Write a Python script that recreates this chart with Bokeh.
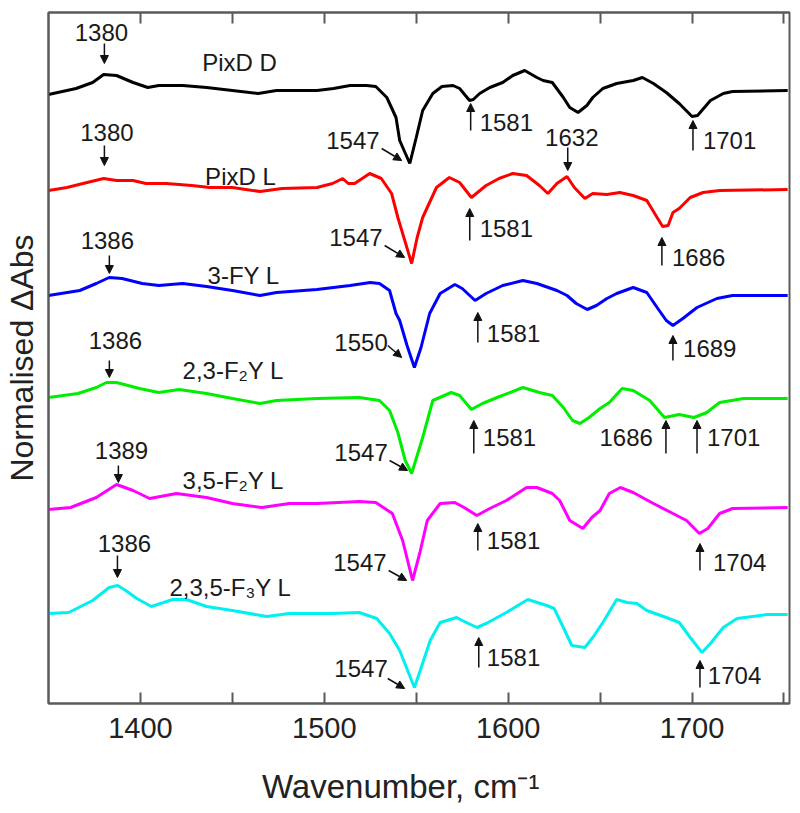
from bokeh.plotting import figure
from bokeh.models import (Range1d, FixedTicker, LinearAxis, Arrow, NormalHead,
                          ColumnDataSource)
from bokeh.core.properties import value
from bokeh.embed import file_html
from bokeh.resources import INLINE

# ---------------- data (normalised ΔAbs, relative to each trace's baseline) ----------------
wn_pixd_d = [1350, 1365, 1374, 1380, 1387, 1396, 1404, 1410, 1423, 1436, 1450, 1464, 1474, 1496,
             1505, 1514, 1523, 1528, 1534, 1539, 1541, 1546.5, 1550, 1553.5, 1559, 1564, 1570,
             1573.6, 1579, 1581, 1584.5, 1590, 1597, 1602.5, 1609, 1615.6, 1619, 1624, 1630,
             1633.5, 1638, 1642.8, 1646, 1651.5, 1659, 1668, 1673, 1679, 1686, 1693, 1700, 1703,
             1710, 1717, 1722, 1752]
dabs_pixd_d = [0, 0.06, 0.12, 0.20, 0.19, 0.12, 0.07, 0.09, 0.09, 0.07, 0.04, 0.01, 0.04, 0.04,
               0.06, 0.09, 0.09, 0.08, -0.03, -0.23, -0.46, -0.69, -0.43, -0.16, 0.01, 0.08, 0.09,
               0.06, -0.06, -0.05, 0.01, 0.07, 0.12, 0.19, 0.24, 0.17, 0.14, 0.12, -0.03,
               -0.13, -0.18, -0.11, -0.03, 0.06, 0.11, 0.14, 0.17, 0.11, 0.02, -0.09, -0.22, -0.21,
               -0.06, 0.01, 0.03, 0.04]

wn_pixd_l = [1350, 1360, 1371, 1380, 1387, 1396, 1403, 1414, 1428, 1437.6, 1450, 1465, 1477, 1496,
             1504.5, 1510, 1513, 1516.5, 1524.7, 1531, 1536.6, 1540, 1547.5, 1550.5, 1553.5, 1561,
             1568, 1573.6, 1580, 1588, 1595, 1602.5, 1610, 1617, 1621.6, 1626.5, 1632, 1636,
             1641.7, 1646, 1653.7, 1660.7, 1668, 1675.4, 1681, 1684, 1687, 1689.6, 1693, 1699,
             1706, 1715, 1752]
dabs_pixd_l = [0, 0.03, 0.08, 0.12, 0.10, 0.10, 0.07, 0.07, 0.05, 0.03, 0.03, -0.01, 0.02, 0.03,
               0.07, 0.12, 0.07, 0.07, 0.17, 0.12, -0.03, -0.27, -0.73, -0.47, -0.27, 0.03,
               0.13, 0.08, -0.07, 0.05, 0.12, 0.17, 0.15, 0.05, -0.03, 0.07, 0.14, 0.03,
               -0.08, -0.03, -0.04, -0.02, -0.05, -0.10, -0.27, -0.36, -0.35, -0.22, -0.18, -0.07,
               -0.02, 0, 0.01]

wn_3fy = [1350, 1367, 1376, 1383, 1390, 1401, 1410, 1423, 1436, 1450, 1465, 1474, 1496, 1514,
          1525, 1530, 1535.5, 1539, 1541, 1545, 1549, 1552.6, 1557.3, 1563, 1571, 1575, 1582,
          1588, 1597, 1608, 1615.6, 1626.5, 1632, 1637, 1643, 1648, 1653.7, 1659, 1668, 1675.4,
          1681, 1686, 1689.6, 1695, 1702.7, 1713.5, 1722, 1752]
dabs_3fy = [0, 0.05, 0.12, 0.18, 0.17, 0.12, 0.10, 0.12, 0.09, 0.05, 0, 0.03, 0.06, 0.10,
            0.13, 0.12, 0.05, -0.18, -0.25, -0.50, -0.72, -0.52, -0.18, 0.02, 0.11, 0.07, -0.05,
            0.02, 0.10, 0.15, 0.12, 0.05, 0, -0.08, -0.14, -0.10, -0.03, 0.02, 0.08, 0.03,
            -0.12, -0.25, -0.30, -0.23, -0.12, -0.03, 0, 0]

wn_23f2y = [1350, 1366, 1376, 1381.5, 1387, 1399.5, 1410, 1421, 1436, 1450, 1465, 1474, 1496, 1519,
            1530, 1535.5, 1540, 1544, 1547.5, 1553.5, 1559, 1569, 1573.6, 1580, 1586, 1594, 1608,
            1617, 1624, 1630, 1635, 1639, 1644, 1650, 1655, 1662, 1668, 1677, 1685, 1693, 1701,
            1708, 1715, 1728, 1752]
dabs_23f2y = [0, 0.04, 0.10, 0.15, 0.15, 0.09, 0.05, 0.08, 0.04, -0.01, -0.06, -0.03, -0.01, 0,
              -0.03, -0.13, -0.35, -0.63, -0.76, -0.40, -0.03, 0.05, 0.02, -0.12, -0.06, 0, 0.10,
              0.05, 0.02, -0.10, -0.23, -0.26, -0.20, -0.11, -0.05, 0.09, 0.07, -0.03, -0.20, -0.17,
              -0.20, -0.15, -0.05, -0.01, -0.01]

wn_35f2y = [1350, 1362, 1376, 1387, 1396, 1405, 1419.6, 1436, 1450, 1466, 1481, 1496, 1519, 1528,
            1537, 1542.6, 1548, 1552, 1556, 1563, 1571, 1576, 1583, 1590, 1599, 1610, 1615.6, 1624,
            1628, 1633.5, 1640.6, 1645.5, 1650, 1655, 1661, 1668, 1679, 1689.6, 1697, 1704,
            1708.6, 1715, 1722, 1752]
dabs_35f2y = [-0.01, 0.01, 0.11, 0.24, 0.18, 0.10, 0.15, 0.11, 0.05, 0.01, 0.05, 0.05, 0.07, 0.06,
              -0.05, -0.32, -0.72, -0.44, -0.12, 0.05, 0.06, 0.01, -0.07, 0, 0.08, 0.21, 0.21, 0.15,
              0.08, -0.12, -0.20, -0.09, -0.02, 0.15, 0.21, 0.16, 0.05, -0.05, -0.12, -0.25,
              -0.20, -0.05, 0, 0.01]

wn_235f3y = [1350, 1361, 1374, 1383, 1387.6, 1392, 1398, 1406, 1417.6, 1425, 1436, 1450, 1468.6,
             1481, 1504.5, 1519, 1528.5, 1535.5, 1541, 1549, 1552, 1557.6, 1563, 1572, 1575, 1583,
             1588, 1599, 1610.7, 1621, 1625, 1630, 1634.6, 1641.7, 1646, 1651.5, 1659, 1664.6,
             1670, 1675.4, 1686, 1693, 1699, 1705.4, 1710, 1717, 1724.5, 1740.8, 1752]
dabs_235f3y = [0, 0.01, 0.13, 0.26, 0.28, 0.23, 0.15, 0.07, 0.14, 0.14, 0.07, 0.03, -0.03,
               0, 0, 0.01, -0.05, -0.20, -0.37, -0.74, -0.58, -0.27, -0.09, -0.04, -0.07, -0.14,
               -0.10, 0.01, 0.14, 0.08, 0.05, -0.14, -0.32, -0.34, -0.24, -0.09, 0.14, 0.11,
               0.10, 0.03, -0.04, -0.09, -0.24, -0.39, -0.30, -0.14, -0.05, -0.01, -0.01]

series_names = ["PixD D", "PixD L", "3-FY L", "2,3-F2Y L", "3,5-F2Y L", "2,3,5-F3Y L"]
series_wn = [wn_pixd_d, wn_pixd_l, wn_3fy, wn_23f2y, wn_35f2y, wn_235f3y]
series_dabs = [dabs_pixd_d, dabs_pixd_l, dabs_3fy, dabs_23f2y, dabs_35f2y, dabs_235f3y]
series_offset = [6.09, 5.13, 4.08, 3.06, 1.95, 0.90]
series_color = ["#000000", "#ff0000", "#0000ff", "#00ee00", "#ff00ff", "#00f0f0"]

x_major_ticks = [1400, 1500, 1600, 1700]
x_minor_ticks = [1450, 1550, 1650, 1750]

# annotation texts (label, wavenumber, level)
ann_center = [("1380", 1378.8, 6.71), ("PixD D", 1453.9, 6.41), ("1632", 1634.6, 5.66),
              ("1380", 1381.8, 5.71), ("PixD L", 1454.4, 5.27), ("1386", 1382.0, 4.63),
              ("3-FY L", 1456.1, 4.28), ("1386", 1386.4, 3.63), ("1389", 1389.7, 2.53),
              ("1386", 1391.3, 1.60)]
ann_left = [("1581", 1584.5, 5.81), ("1701", 1705.9, 5.63), ("1581", 1584.5, 4.75),
            ("1686", 1689.1, 4.46), ("1581", 1588.4, 3.70), ("1689", 1695.1, 3.55),
            ("2,3-F\u2082Y L", 1422.9, 3.33), ("1581", 1586.2, 2.66), ("1701", 1708.1, 2.66),
            ("3,5-F\u2082Y L", 1422.9, 2.23), ("1581", 1588.4, 1.63), ("1704", 1711.4, 1.41),
            ("2,3,5-F\u2083Y L", 1415.8, 1.16), ("1581", 1588.4, 0.46), ("1704", 1708.6, 0.28)]
ann_right = [("1547", 1530.1, 5.63), ("1547", 1531.7, 4.66), ("1550", 1534.5, 3.61),
             ("1547", 1534.5, 2.51), ("1686", 1678.7, 2.66), ("1547", 1533.9, 1.41),
             ("1547", 1534.5, 0.35)]

# arrows (x_start, y_start, x_end, y_end)
arrows = [
    (1380.4, 6.60, 1380.4, 6.40), (1380.4, 5.58, 1380.4, 5.38), (1383.1, 4.48, 1383.1, 4.30),
    (1383.1, 3.43, 1383.1, 3.26), (1388.0, 2.38, 1388.0, 2.21), (1387.5, 1.48, 1387.5, 1.26),
    (1632.4, 5.56, 1632.4, 5.33),
    (1579.6, 5.73, 1579.6, 6.00), (1700.5, 5.53, 1700.5, 5.83), (1579.1, 4.63, 1579.1, 4.95),
    (1683.6, 4.38, 1683.6, 4.66), (1583.5, 3.61, 1583.5, 3.91), (1689.6, 3.43, 1689.6, 3.68),
    (1581.3, 2.50, 1581.3, 2.83), (1685.8, 2.50, 1685.8, 2.83), (1702.7, 2.50, 1702.7, 2.83),
    (1583.5, 1.53, 1583.5, 1.80), (1704.3, 1.33, 1704.3, 1.60), (1584.0, 0.36, 1584.0, 0.66),
    (1704.3, 0.16, 1704.3, 0.43),
    (1531.2, 5.55, 1542.1, 5.43), (1532.8, 4.58, 1543.7, 4.46), (1534.5, 3.58, 1542.1, 3.46),
    (1535.5, 2.43, 1545.3, 2.33), (1535.0, 1.33, 1544.8, 1.23), (1534.5, 0.25, 1543.7, 0.15),
]

# ---------------- figure ----------------
FONT = "Liberation Sans"
AX = "#5a5a5a"

p = figure(width=800, height=813, output_backend="svg", toolbar_location=None,
           x_range=Range1d(1350, 1753), y_range=Range1d(0, 6.91),
           min_border_left=48, min_border_right=11, min_border_top=12, min_border_bottom=110,
           x_axis_label="Wavenumber, cm\u207b\u00b9\u00a0\u00a0\u00a0\u00a0",
           y_axis_label="Normalised \u0394Abs")
p.grid.visible = False
p.outline_line_color = AX
p.outline_line_width = 2
p.background_fill_color = "white"
p.border_fill_color = "white"

xa = p.xaxis[0]
xa.ticker = FixedTicker(ticks=x_major_ticks, minor_ticks=x_minor_ticks)
xa.major_tick_in = 11
xa.major_tick_out = 0
xa.minor_tick_in = 11
xa.minor_tick_out = 0
xa.axis_line_color = AX
xa.axis_line_width = 2
xa.major_tick_line_color = AX
xa.major_tick_line_width = 2
xa.minor_tick_line_color = AX
xa.minor_tick_line_width = 2
xa.major_label_text_font = FONT
xa.major_label_text_font_size = "29px"
xa.major_label_text_color = "#222222"
xa.major_label_standoff = 14
xa.axis_label_text_font = FONT
xa.axis_label_text_font_size = "33px"
xa.axis_label_text_font_style = "normal"
xa.axis_label_text_color = "#222222"
xa.axis_label_standoff = 27

ya = p.yaxis[0]
ya.ticker = FixedTicker(ticks=[])
ya.major_tick_in = 0
ya.major_tick_out = 0
ya.minor_tick_line_color = None
ya.major_label_standoff = 0
ya.axis_line_color = AX
ya.axis_line_width = 2
ya.axis_label_text_font = FONT
ya.axis_label_text_font_size = "32px"
ya.axis_label_text_font_style = "normal"
ya.axis_label_text_color = "#222222"
ya.axis_label_standoff = 9

top = LinearAxis(ticker=FixedTicker(ticks=[], minor_ticks=x_major_ticks + x_minor_ticks),
                 major_tick_line_color=None, major_label_standoff=0,
                 minor_tick_in=11, minor_tick_out=0,
                 minor_tick_line_color=AX, minor_tick_line_width=2,
                 axis_line_color=AX, axis_line_width=2)
p.add_layout(top, "above")

for wn, da, off, col in zip(series_wn, series_dabs, series_offset, series_color):
    p.line([w for w in wn], [off + d for d in da], line_color=col, line_width=3)

arrow_src = ColumnDataSource(dict(x0=[a[0] for a in arrows], y0=[a[1] for a in arrows],
                                  x1=[a[2] for a in arrows], y1=[a[3] for a in arrows]))
p.add_layout(Arrow(source=arrow_src, x_start="x0", y_start="y0", x_end="x1", y_end="y1",
                   line_color="#111111", line_width=1.5,
                   end=NormalHead(size=8, fill_color="#111111", line_color="#111111", line_width=1)))

for items, align in ((ann_center, "center"), (ann_left, "left"), (ann_right, "right")):
    src = ColumnDataSource(dict(t=[i[0] for i in items], x=[i[1] for i in items], y=[i[2] for i in items]))
    p.text(x="x", y="y", text="t", source=src, text_font=value(FONT), text_font_size=value("24px"),
           text_align=align, text_baseline="middle", text_color="#1a1a1a")

open("out.html", "w").write(file_html(p, INLINE))
